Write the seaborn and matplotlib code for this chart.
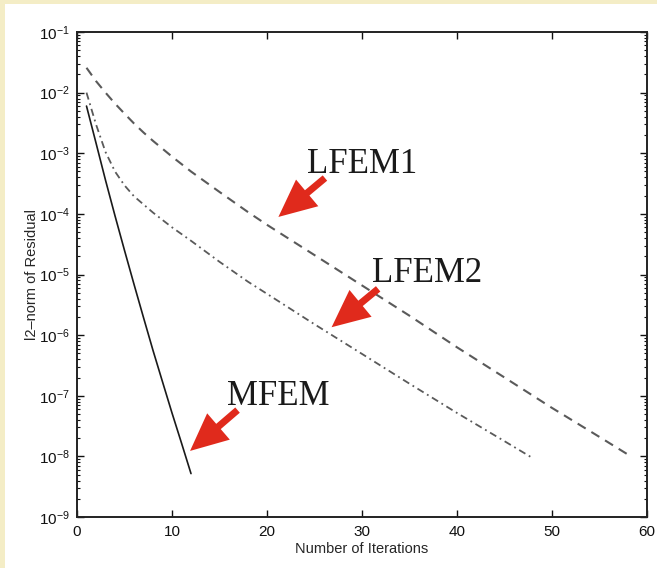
import matplotlib
matplotlib.use("Agg")
import matplotlib.pyplot as plt
from matplotlib.patches import Rectangle
from matplotlib.ticker import LogLocator, FixedLocator, NullFormatter
import seaborn as sns
import pandas as pd

# ---------------- data ----------------
mfem_iter = [1, 2, 3, 4, 5, 6, 7, 8, 9, 10, 11, 12]
mfem_res = [6.0e-3, 1.48e-3, 3.6e-4, 9.3e-5, 2.5e-5, 6.9e-6, 1.95e-6,
            5.6e-7, 1.7e-7, 5.2e-8, 1.66e-8, 5.2e-9]

lfem1_iter = [1, 2, 3, 4, 5, 6, 7, 8, 10, 12, 15, 18, 20, 25, 30, 35, 40, 45, 50, 55, 58]
lfem1_res = [2.57e-2, 1.55e-2, 1.0e-2, 6.6e-3, 4.5e-3, 3.1e-3, 2.2e-3, 1.6e-3, 8.8e-4,
             5.0e-4, 2.3e-4, 1.07e-4, 6.6e-5, 2.09e-5, 6.6e-6, 2.09e-6, 6.3e-7,
             2.0e-7, 6.3e-8, 2.09e-8, 1.07e-8]

lfem2_iter = [1, 2, 3, 4, 5, 6, 8, 10, 12, 15, 18, 20, 25, 30, 35, 40, 45, 48]
lfem2_res = [1.0e-2, 3.0e-3, 1.05e-3, 5.0e-4, 2.95e-4, 1.95e-4, 1.05e-4, 6.0e-5,
             3.6e-5, 1.62e-5, 7.6e-6, 4.8e-6, 1.51e-6, 4.9e-7, 1.58e-7, 5.2e-8,
             1.78e-8, 9.3e-9]

x_ticks = [0, 10, 20, 30, 40, 50, 60]
y_ticks = [1e-9, 1e-8, 1e-7, 1e-6, 1e-5, 1e-4, 1e-3, 1e-2, 1e-1]
y_tick_labels = ["$10^{-9}$", "$10^{-8}$", "$10^{-7}$", "$10^{-6}$", "$10^{-5}$",
                 "$10^{-4}$", "$10^{-3}$", "$10^{-2}$", "$10^{-1}$"]
x_label = "Number of Iterations"
y_label = "l2\u2013norm of Residual"

# annotation label, text anchor (iter, residual), arrow tail, arrow tip
labels = ["LFEM1", "LFEM2", "MFEM"]
label_pos = [(24.2, 4.7e-4), (31.05, 7.5e-6), (15.8, 7.0e-8)]
arrow_tail = [(26.1, 3.9e-4), (31.7, 5.8e-6), (16.9, 5.8e-8)]
arrow_tip = [(21.2, 8.9e-5), (26.8, 1.35e-6), (11.9, 1.23e-8)]

# ---------------- style ----------------
sns.set_style("ticks")
plt.rcParams["font.family"] = ["Liberation Sans", "DejaVu Sans"]
plt.rcParams["mathtext.fontset"] = "custom"
plt.rcParams["mathtext.rm"] = "Liberation Sans"
plt.rcParams["mathtext.it"] = "Liberation Sans"
plt.rcParams["mathtext.default"] = "regular"

W, H = 657, 568
fig = plt.figure(figsize=(W / 100, H / 100), dpi=100)
fig.patch.set_facecolor("#F4EDC6")
bg = Rectangle((5 / W, 0), 1 - 5 / W, 1 - 4 / H, transform=fig.transFigure,
               facecolor="white", edgecolor="none", zorder=-10)
fig.patches.append(bg)

ax = fig.add_axes([77 / W, 1 - 517 / H, (647 - 77) / W, (517 - 32) / H])
ax.set_zorder(5)
ax.set_facecolor("white")

df1 = pd.DataFrame({"it": lfem1_iter, "res": lfem1_res})
df2 = pd.DataFrame({"it": lfem2_iter, "res": lfem2_res})
df0 = pd.DataFrame({"it": mfem_iter, "res": mfem_res})

sns.lineplot(data=df1, x="it", y="res", ax=ax, color="#5a5a5a", lw=1.5,
             linestyle=(0, (4.5, 3.2)))
sns.lineplot(data=df2, x="it", y="res", ax=ax, color="#5a5a5a", lw=1.3,
             linestyle=(0, (4.0, 2.2, 1.0, 2.2)))
sns.lineplot(data=df0, x="it", y="res", ax=ax, color="#1a1a1a", lw=1.2)

ax.set_yscale("log")
ax.set_xlim(0, 60)
ax.set_ylim(1e-9, 1e-1)
ax.xaxis.set_major_locator(FixedLocator(x_ticks))
ax.set_yticks(y_ticks)
ax.set_yticklabels(y_tick_labels)
ax.yaxis.set_minor_locator(LogLocator(base=10, subs=range(2, 10), numticks=100))
ax.yaxis.set_minor_formatter(NullFormatter())

ax.tick_params(axis="both", which="both", direction="in", top=True, right=True,
               colors="#111111", labelsize=11)
ax.tick_params(axis="both", which="major", length=5, width=1.0)
ax.tick_params(axis="y", which="minor", length=2.5, width=0.8)
ax.tick_params(axis="x", which="major", pad=6)
ax.tick_params(axis="y", which="major", pad=5)
for s in ax.spines.values():
    s.set_linewidth(1.4)
    s.set_color("#222222")

ax.set_xlabel(x_label, fontsize=10.5, labelpad=2)
ax.set_ylabel(y_label, fontsize=10.5, labelpad=0)

red = "#E02A1C"
for lab, tp, tail, tip in zip(labels, label_pos, arrow_tail, arrow_tip):
    ax.text(tp[0], tp[1], lab, family=["Liberation Serif"], fontsize=25,
            color="#1a1a1a", ha="left", va="baseline")
    ax.annotate("", xy=tip, xytext=tail,
                arrowprops=dict(arrowstyle="simple,head_length=2.7,head_width=2.5,tail_width=0.5",
                                mutation_scale=10, color=red, shrinkA=0, shrinkB=0, lw=0))

fig.savefig("out.png", dpi=100, facecolor=fig.get_facecolor())
